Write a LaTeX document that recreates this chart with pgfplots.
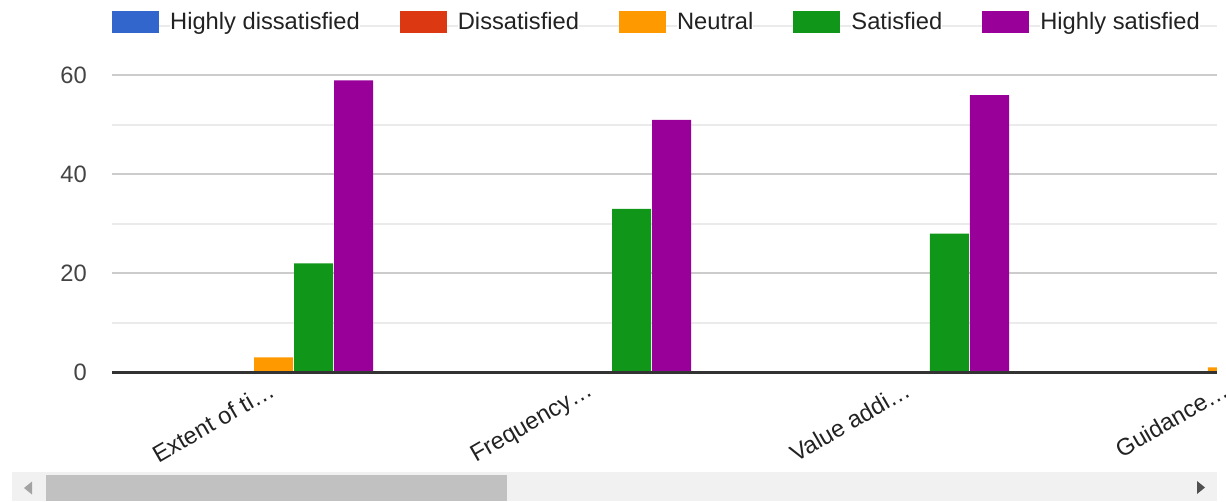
\documentclass[border=0pt]{standalone}
\usepackage{fontspec}
\setmainfont{Liberation Sans}
\usepackage{pgfplots}
\pgfplotsset{compat=1.18}

\definecolor{gblue}{HTML}{3366CC}
\definecolor{gred}{HTML}{DC3912}
\definecolor{gorange}{HTML}{FF9900}
\definecolor{ggreen}{HTML}{109618}
\definecolor{gpurple}{HTML}{990099}
\definecolor{majgrid}{HTML}{CCCCCC}
\definecolor{mingrid}{HTML}{EBEBEB}
\definecolor{axisdark}{HTML}{333333}
\definecolor{ticktext}{HTML}{444444}
\definecolor{legtext}{HTML}{222222}
\definecolor{track}{HTML}{F1F1F1}
\definecolor{thumb}{HTML}{C1C1C1}
\definecolor{arrowlight}{HTML}{A3A3A3}
\definecolor{arrowdark}{HTML}{505050}

\newcommand{\chartfont}{\fontsize{23.7}{28}\selectfont}

\pgfplotsset{
  boxlegend/.style={legend image code/.code={\fill[##1] (0pt,-11pt) rectangle (47pt,11pt);}},
}

\begin{document}
\begin{tikzpicture}
\begin{axis}[
  at={(112pt,128.7pt)}, anchor=south west,
  scale only axis, width=1105pt, height=346.5pt,
  xmin=-0.508, xmax=2.967, ymin=0, ymax=70,
  ybar=1pt, bar width=39pt,
  axis line style={draw=none},
  major tick length=0pt, minor tick length=0pt,
  xtick={0,1,2},
  xticklabels={Extent of ti…, Frequency…, Value addi…},
  ytick={0,20,40,60}, minor ytick={10,30,50,70},
  ymajorgrids, yminorgrids,
  major grid style={line width=2pt, majgrid},
  minor grid style={line width=2pt, mingrid},
  tick label style={font=\chartfont},
  /pgf/number format/assume math mode=true,
  yticklabel style={text=ticktext, inner sep=0pt, xshift=-25pt},
  xticklabel style={text=legtext, inner sep=0pt, xshift=-6pt, yshift=-8pt, rotate=30, anchor=north east},
  legend columns=-1,
  legend style={at={(0,1)}, anchor=west, yshift=4pt, draw=none, fill=none,
    inner sep=0pt, font=\chartfont, text=legtext,
    nodes={inner sep=0pt, fill=white},
    /tikz/every odd column/.append style={column sep=11pt},
    /tikz/every even column/.append style={column sep=40pt}},
]
\addplot[fill=gblue, draw=none, boxlegend] coordinates {(0,0) (1,0) (2,0) (3,0)};
\addplot[fill=gred, draw=none, boxlegend] coordinates {(0,0) (1,0) (2,0) (3,0)};
\addplot[fill=gorange, draw=none, boxlegend] coordinates {(0,3) (1,0) (2,0) (3,1)};
\addplot[fill=ggreen, draw=none, boxlegend] coordinates {(0,22) (1,33) (2,28)};
\addplot[fill=gpurple, draw=none, boxlegend] coordinates {(0,59) (1,51) (2,56)};
\legend{Highly dissatisfied, Dissatisfied, Neutral, Satisfied, Highly satisfied}
\coordinate (zl) at (rel axis cs:0,0);
\coordinate (zr) at (rel axis cs:1,0);
\coordinate (g4) at (axis cs:3,0);
\end{axis}
\draw[axisdark, line width=3pt] (zl) -- (zr);
\node[font=\chartfont, text=legtext, inner sep=0pt, xshift=-6pt, yshift=-8pt, rotate=30, anchor=north east] at (g4) {Guidance…};
% scrollbar
\fill[track] (12pt,0pt) rectangle (1217pt,29pt);
\fill[thumb] (46pt,0pt) rectangle (507pt,26pt);
\fill[arrowlight] (24pt,13pt) -- (32pt,19.5pt) -- (32pt,6.5pt) -- cycle;
\fill[arrowdark] (1205pt,13.5pt) -- (1197pt,20pt) -- (1197pt,7pt) -- cycle;
\pgfresetboundingbox
\path[use as bounding box] (0pt,0pt) rectangle (1226pt,501pt);
\end{tikzpicture}
\end{document}
